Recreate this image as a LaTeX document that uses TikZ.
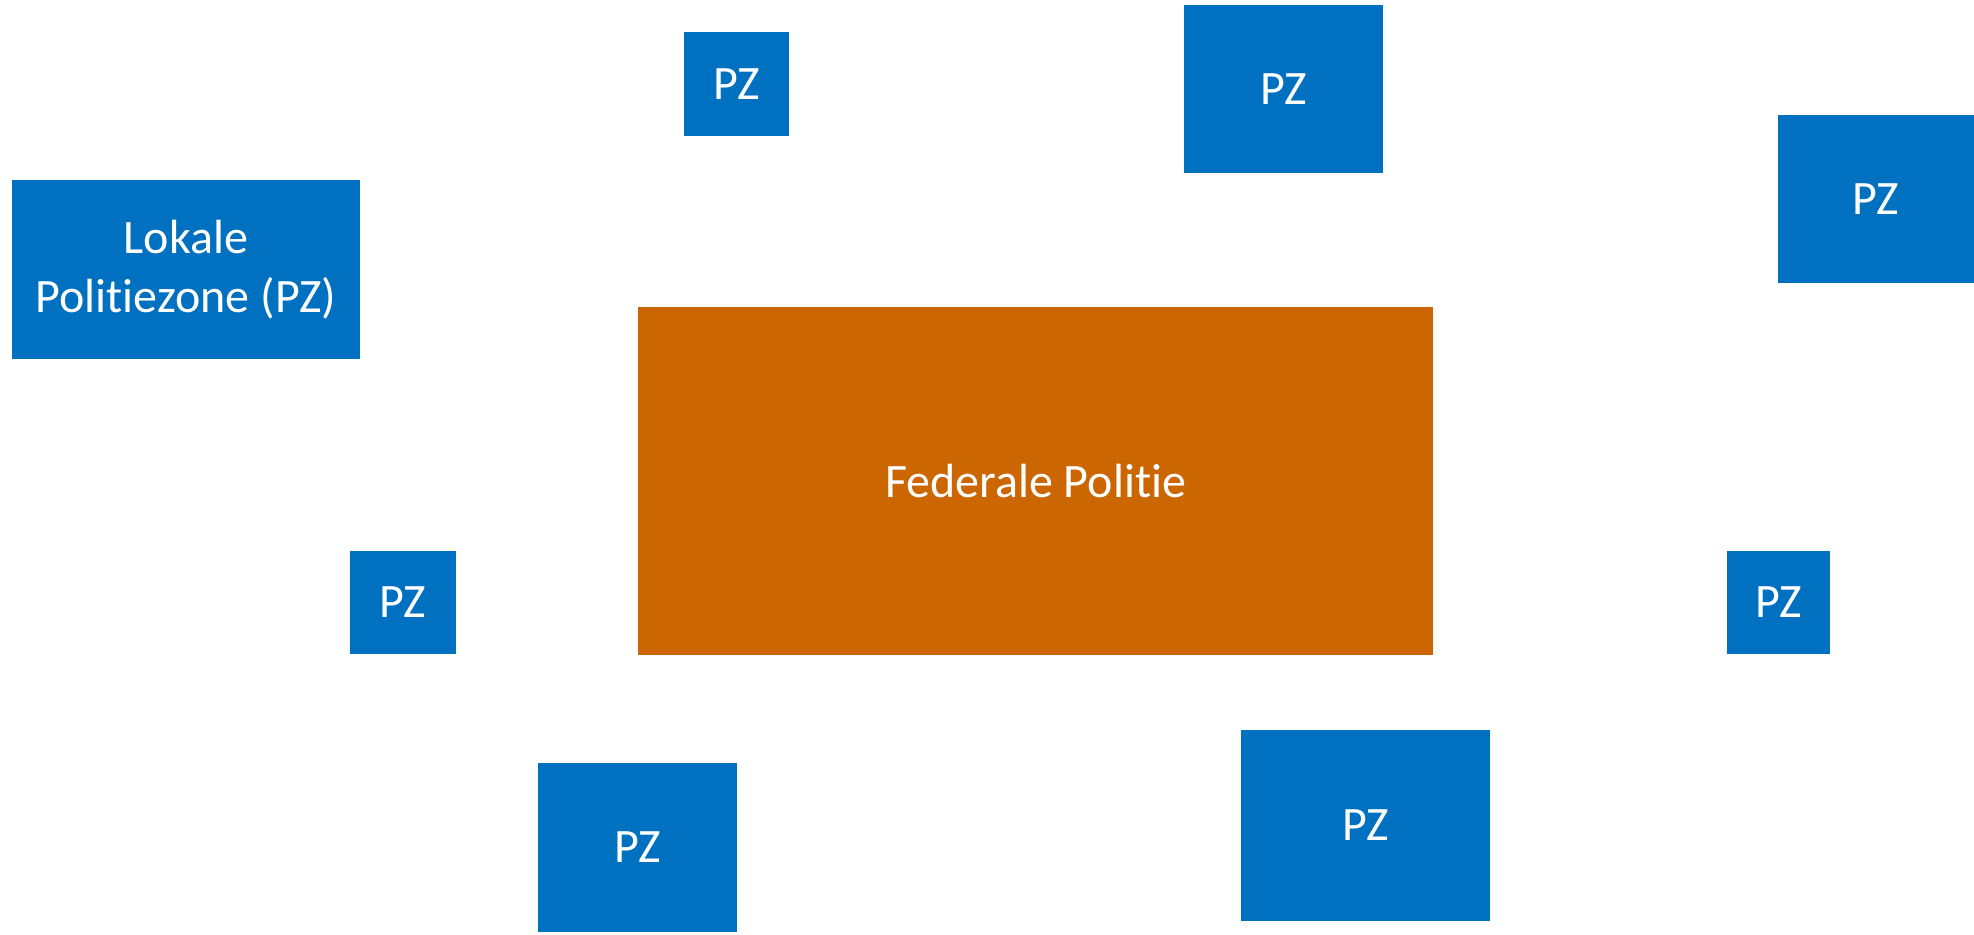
\documentclass[tikz,border=0pt]{standalone}
\usepackage{fontspec}
\setmainfont[Ligatures=NoCommon]{Carlito}
\definecolor{pzblue}{HTML}{0070C0}
\definecolor{fedorange}{HTML}{CC6600}
\tikzset{
  pzbox/.style={fill=pzblue, draw=none, text=white, inner sep=0pt, align=center,
    font=\fontsize{24}{29.5}\selectfont},
  fedbox/.style={pzbox, fill=fedorange}
}
\begin{document}
\begin{tikzpicture}[x=0.5pt,y=-0.5pt]
\useasboundingbox (0,0) rectangle (1974,934);
\node[pzbox, minimum width=52.5pt, minimum height=52pt] (pz1) at (736.5,84) {PZ};
\node[pzbox, minimum width=99.5pt, minimum height=84pt] (pz2) at (1283.5,89) {PZ};
\node[pzbox, minimum width=98pt, minimum height=84pt] (pz3) at (1876,199) {PZ};
\node[pzbox, minimum width=174pt, minimum height=89.5pt] (lokaal) at (186,269.5) {Lokale\\Politiezone (PZ)};
\node[fedbox, minimum width=397.5pt, minimum height=174pt] (fed) at (1035.5,481) {Federale Politie};
\node[pzbox, minimum width=53pt, minimum height=51.5pt] (pz4) at (403,602.5) {PZ};
\node[pzbox, minimum width=51.5pt, minimum height=51.5pt] (pz5) at (1778.5,602.5) {PZ};
\node[pzbox, minimum width=99.5pt, minimum height=84.5pt] (pz6) at (637.5,847.5) {PZ};
\node[pzbox, minimum width=124.5pt, minimum height=95.5pt] (pz7) at (1365.5,825.5) {PZ};
\end{tikzpicture}
\end{document}
